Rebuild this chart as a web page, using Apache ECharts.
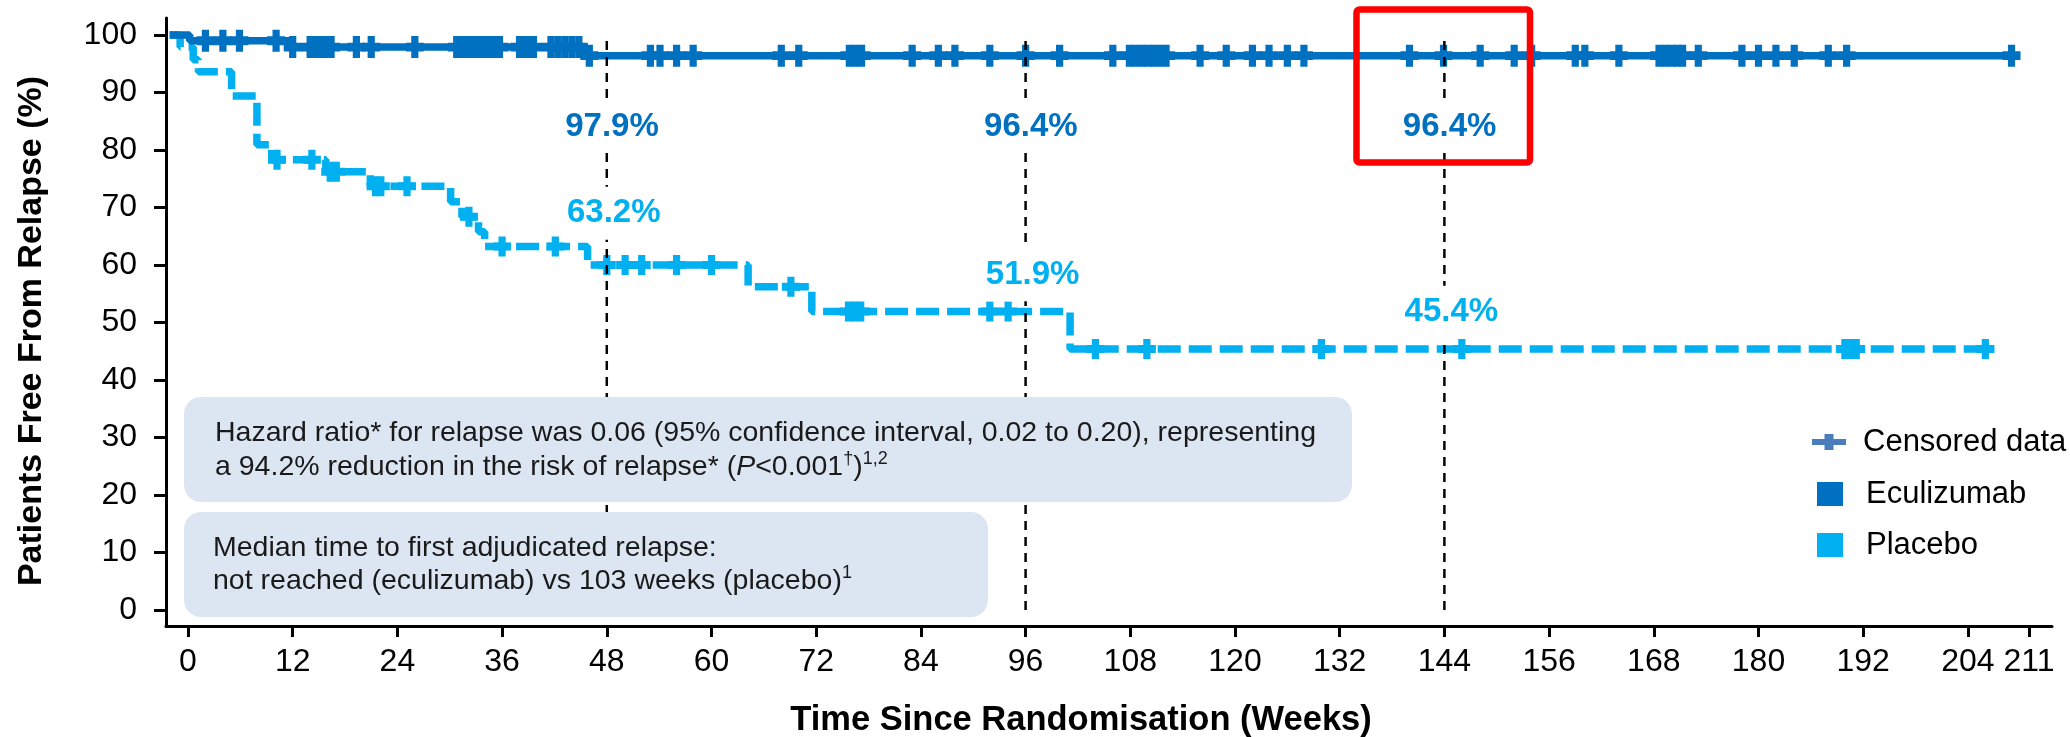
<!DOCTYPE html>
<html><head><meta charset="utf-8">
<script src="https://cdn.jsdelivr.net/npm/echarts@6/dist/echarts.min.js"></script>
<style>html,body{margin:0;padding:0;background:#fff}#c{width:2070px;height:737px}</style>
</head><body><div id="c"></div>
<script>
// ---------- data ----------
const xTickWeeks = [0,12,24,36,48,60,72,84,96,108,120,132,144,156,168,180,192,204,211];
const yTickValues = [0,10,20,30,40,50,60,70,80,90,100];

// Kaplan-Meier steps: [week, % free from relapse from that week on]
const eculizumabSteps = [[-2.1,100],[0.2,99.0],[11.7,97.9],[45.6,96.4],[209.8,96.4]];
const eculizumabCensored = [2.0,4.0,5.9,10.1,12.0,14.0,14.6,15.2,15.8,16.4,19.3,21.0,26.0,
  30.8,31.5,32.2,32.9,33.6,34.3,35.0,35.7,38.0,38.8,39.6,41.6,42.4,43.2,44.0,44.8,46.0,
  53.0,54.1,56.0,57.9,68.0,70.0,75.8,76.5,77.2,83.0,86.0,87.9,91.9,96.0,99.9,106.0,
  107.9,108.6,109.3,110.0,110.7,111.4,112.1,116.0,119.0,122.0,123.9,126.0,127.9,140.0,
  143.9,148.1,152.0,154.0,159.0,160.1,164.0,168.6,169.3,170.0,170.7,171.3,173.1,178.1,
  180.0,182.0,184.1,188.0,190.1,209.0];

const placeboSteps = [[-2.1,100],[-0.9,97.9],[0.6,95.7],[1.2,93.6],[5.0,89.4],[7.9,80.9],
  [9.6,78.3],[15.8,76.2],[20.9,73.7],[30.1,71.0],[31.4,68.4],[33.3,65.8],[34.0,63.2],
  [45.8,60.0],[64.2,56.2],[71.5,51.9],[101.1,45.4],[207.1,45.4]];
const placeboCensored = [10.2,14.2,16.3,17.0,21.5,22.1,25.1,32.2,36.0,42.1,48.0,50.1,52.0,
  56.0,60.0,69.1,75.7,76.4,77.1,91.9,94.0,104.0,109.9,129.9,146.0,189.9,190.6,191.2,206.0];

const landmarkWeeks = [48, 96, 144];
const eculizumabLandmarkText = ['97.9%','96.4%','96.4%'];
const placeboLandmarkText = ['63.2%','51.9%','45.4%'];

// ---------- helpers ----------
function survivalAt(steps, t) {
  let v = steps[0][1];
  for (const s of steps) { if (s[0] <= t) v = s[1]; }
  return v;
}
const FONT = "'Liberation Sans', Arial, Helvetica, sans-serif";
const DARK = '#0070C0', LIGHT = '#00B0F0';
const plusPath = 'path://M6,0H14V6H20V14H14V20H6V14H0V6H6Z';
const censorIcon = 'path://M0,5H12.5V0H21.5V5H34V11H21.5V16H12.5V11H0Z';

const eculizumabLabelY = [84.1, 84.1, 84.1];
const placeboLabelY = [69.0, 58.3, 51.8];

const labelData = [];
landmarkWeeks.forEach((w, i) => {
  labelData.push({ value: [w + 0.6, eculizumabLabelY[i]], label: { formatter: eculizumabLandmarkText[i], color: DARK } });
  labelData.push({ value: [w + 0.8, placeboLabelY[i]], label: { formatter: placeboLandmarkText[i], color: LIGHT } });
});

const landmarkSeries = landmarkWeeks.map(w => ({
  type: 'line', name: 'landmark' + w, data: [[w, 0], [w, 99]], showSymbol: false, silent: true, z: 4,
  lineStyle: { color: '#000', width: 2.5, type: [9, 7] }
}));

const chart = echarts.init(document.getElementById('c'), null, { renderer: 'canvas' });
chart.setOption({
  animation: false,
  backgroundColor: '#fff',
  textStyle: { fontFamily: FONT },
  grid: { left: 166, right: 18, top: 18, bottom: 111, containLabel: false, outerBoundsMode: 'none' },
  xAxis: {
    type: 'value', min: -2.52, max: 213.64,
    name: 'Time Since Randomisation (Weeks)', nameLocation: 'middle', nameGap: 77,
    nameTextStyle: { fontSize: 34.5, fontWeight: 'bold', color: '#000', fontFamily: FONT, padding: [0, 56, 0, 0] },
    axisLine: { onZero: false, lineStyle: { color: '#000', width: 3 } },
    axisTick: { show: true, inside: false, length: 11, customValues: xTickWeeks, lineStyle: { color: '#000', width: 3 } },
    axisLabel: { customValues: xTickWeeks, margin: 20, fontSize: 32, color: '#000', fontFamily: FONT },
    splitLine: { show: false }
  },
  yAxis: {
    type: 'value', min: -2.78, max: 102.96,
    name: 'Patients Free From Relapse (%)', nameLocation: 'middle', nameGap: 117, nameRotate: 90,
    nameTextStyle: { fontSize: 34, fontWeight: 'bold', color: '#000', fontFamily: FONT, padding: [0, 18, 0, 0] },
    axisLine: { onZero: false, lineStyle: { color: '#000', width: 3 } },
    axisTick: { show: true, inside: false, length: 12, customValues: yTickValues, lineStyle: { color: '#000', width: 3 } },
    axisLabel: { customValues: yTickValues, margin: 29, fontSize: 32, color: '#000', fontFamily: FONT },
    splitLine: { show: false }
  },
  legend: [
    {
      data: [{ name: 'Censored data', icon: censorIcon }],
      left: 1812, top: 426.5, padding: 0, itemWidth: 34, itemHeight: 16, selectedMode: false,
      itemStyle: { borderWidth: 0 },
      textStyle: { fontSize: 31, fontFamily: FONT, color: '#000', lineHeight: 31, padding: [0, 0, 0, 12] }
    },
    {
      data: [{ name: 'Eculizumab', icon: 'rect' }, { name: 'Placebo', icon: 'rect' }],
      orient: 'vertical', left: 1817, top: 478.5, padding: 0, itemWidth: 26, itemHeight: 24, itemGap: 20,
      selectedMode: false, itemStyle: { borderWidth: 0 },
      textStyle: { fontSize: 31, fontFamily: FONT, color: '#000', lineHeight: 31, padding: [0, 0, 0, 18] }
    }
  ],
  series: [
    {
      type: 'line', name: 'Placebo', step: 'end', data: placeboSteps, showSymbol: false, z: 2,
      color: LIGHT, itemStyle: { color: LIGHT },
      lineStyle: { color: LIGHT, width: 7.5, type: [23, 8], cap: 'butt' }
    },
    {
      type: 'line', name: 'Eculizumab', step: 'end', data: eculizumabSteps, showSymbol: false, z: 2,
      color: DARK, itemStyle: { color: DARK },
      lineStyle: { color: DARK, width: 7.5 }
    },
    {
      type: 'scatter', name: 'Placebo censored', z: 3, symbol: plusPath, symbolSize: [18, 20],
      itemStyle: { color: LIGHT, opacity: 1 },
      data: placeboCensored.map(t => [t, survivalAt(placeboSteps, t)])
    },
    {
      type: 'scatter', name: 'Eculizumab censored', z: 3, symbol: plusPath, symbolSize: [18, 22],
      itemStyle: { color: DARK, opacity: 1 },
      data: eculizumabCensored.map(t => [t, survivalAt(eculizumabSteps, t)])
    },
    { type: 'line', name: 'Censored data', data: [], color: '#4A7EBB', itemStyle: { color: '#4A7EBB' } },
    ...landmarkSeries,
    {
      type: 'scatter', name: 'landmark labels', z: 6, symbolSize: 1, silent: true,
      itemStyle: { color: 'rgba(255,255,255,0)' },
      label: { show: true, position: 'inside', fontSize: 33, fontWeight: 'bold', fontFamily: FONT,
        backgroundColor: '#fff', padding: [10, 3], opacity: 1 },
      data: labelData
    }
  ],
  graphic: [
    { type: 'rect', z: 10, shape: { x: 184, y: 397, width: 1168, height: 105, r: 17 }, style: { fill: '#dce6f2' } },
    { type: 'text', z: 11, x: 215, y: 415.7, style: {
        text: 'Hazard ratio* for relapse was 0.06 (95% confidence interval, 0.02 to 0.20), representing\n' +
              'a 94.2% reduction in the risk of relapse* ({i|P}<0.001{sup|†}){sup|1,2}',
        fontSize: 28.5, fontFamily: FONT, fill: '#1a1a1a', lineHeight: 34,
        verticalAlign: 'top', textVerticalAlign: 'top', align: 'left', textAlign: 'left',
        rich: {
          i: { fontSize: 28.5, fontFamily: FONT, fontStyle: 'italic', fill: '#1a1a1a', lineHeight: 34 },
          sup: { fontSize: 18, fontFamily: FONT, fill: '#1a1a1a', lineHeight: 24, verticalAlign: 'top' }
        }
    } },
    { type: 'rect', z: 10, shape: { x: 184, y: 512, width: 804, height: 105, r: 17 }, style: { fill: '#dce6f2' } },
    { type: 'text', z: 11, x: 213, y: 531.2, style: {
        text: 'Median time to first adjudicated relapse:\nnot reached (eculizumab) vs 103 weeks (placebo){sup|1}',
        fontSize: 28.5, fontFamily: FONT, fill: '#1a1a1a', lineHeight: 33,
        verticalAlign: 'top', textVerticalAlign: 'top', align: 'left', textAlign: 'left',
        rich: {
          sup: { fontSize: 18, fontFamily: FONT, fill: '#1a1a1a', lineHeight: 23, verticalAlign: 'top' }
        }
    } },
    { type: 'rect', z: 12, shape: { x: 1356.5, y: 9.5, width: 173.5, height: 153, r: 3 },
      style: { fill: 'none', stroke: '#ff0000', lineWidth: 6.5 } }
  ]
});
</script></body></html>
